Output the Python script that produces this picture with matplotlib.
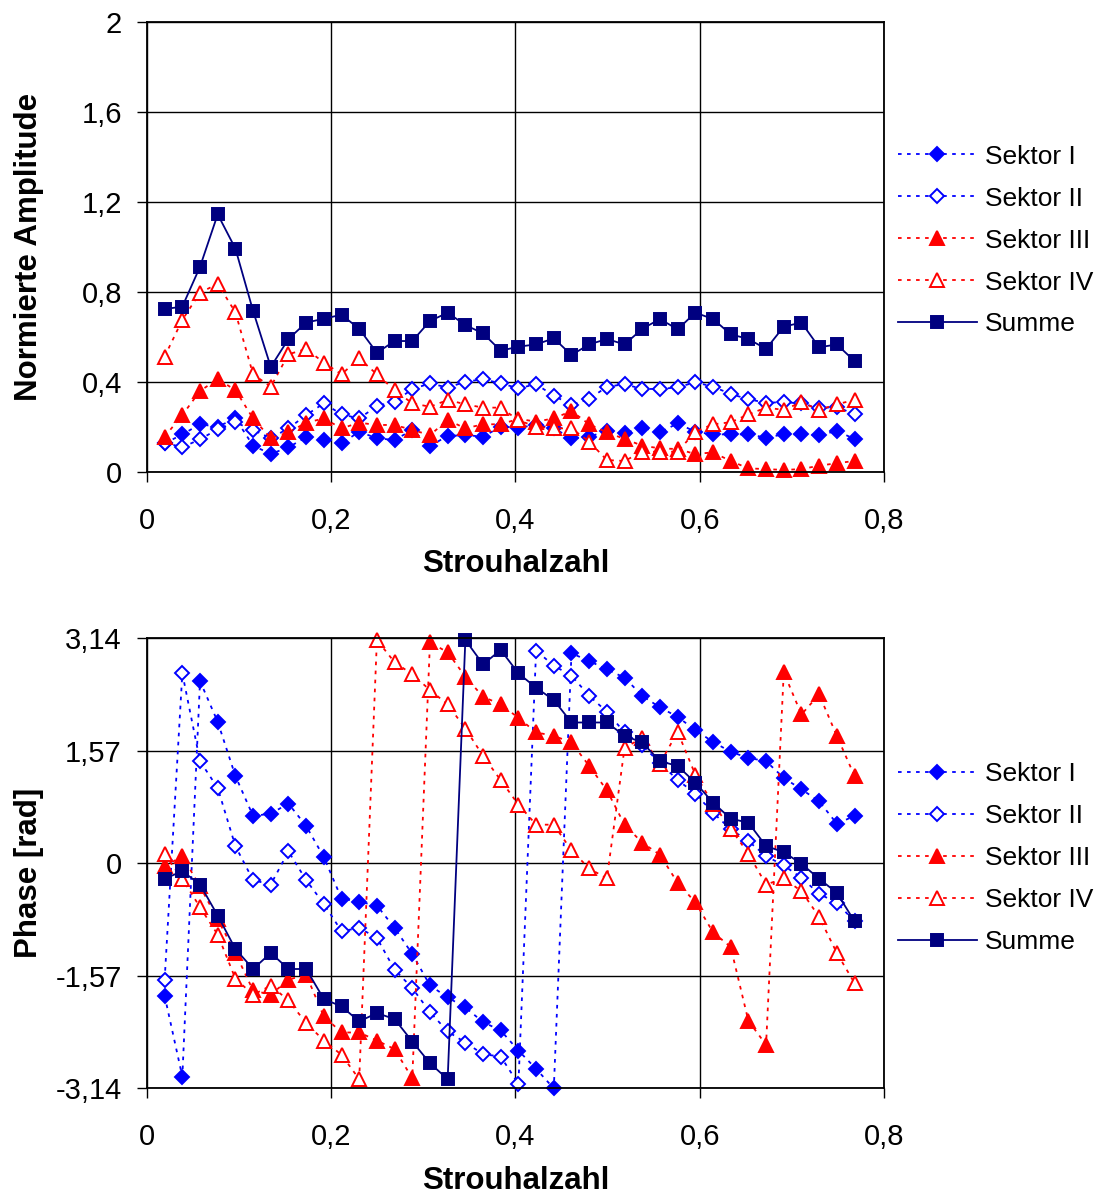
import numpy as np
import matplotlib
matplotlib.use('Agg')
import matplotlib.pyplot as plt

plt.rcParams['font.family'] = ['Liberation Sans', 'DejaVu Sans']

# Strouhal numbers (40 frequency bins)
strouhal = [0.0192, 0.0384, 0.0576, 0.0768, 0.0960, 0.1152, 0.1344, 0.1536, 0.1728, 0.1920,
            0.2112, 0.2304, 0.2496, 0.2688, 0.2880, 0.3072, 0.3264, 0.3456, 0.3648, 0.3840,
            0.4032, 0.4224, 0.4416, 0.4608, 0.4800, 0.4992, 0.5184, 0.5376, 0.5568, 0.5760,
            0.5952, 0.6144, 0.6336, 0.6528, 0.6720, 0.6912, 0.7104, 0.7296, 0.7488, 0.7680]

# normalised amplitude ==========================================
amp_1 = [0.127, 0.167, 0.212, 0.201, 0.238, 0.117, 0.080, 0.110, 0.154, 0.142,
         0.127, 0.179, 0.150, 0.142, 0.187, 0.116, 0.160, 0.164, 0.157, 0.201,
         0.197, 0.209, 0.194, 0.150, 0.157, 0.182, 0.172, 0.197, 0.176, 0.216,
         0.179, 0.167, 0.167, 0.167, 0.153, 0.167, 0.167, 0.164, 0.182, 0.147]
amp_2 = [0.130, 0.110, 0.145, 0.190, 0.220, 0.187, 0.150, 0.194, 0.253, 0.305,
         0.256, 0.238, 0.293, 0.313, 0.368, 0.394, 0.375, 0.401, 0.412, 0.394,
         0.372, 0.390, 0.339, 0.298, 0.324, 0.379, 0.390, 0.369, 0.369, 0.376,
         0.399, 0.379, 0.347, 0.323, 0.308, 0.310, 0.305, 0.283, 0.290, 0.256]
amp_3 = [0.157, 0.253, 0.360, 0.413, 0.364, 0.238, 0.150, 0.176, 0.219, 0.238,
         0.194, 0.219, 0.209, 0.209, 0.187, 0.164, 0.231, 0.194, 0.212, 0.212,
         0.236, 0.224, 0.238, 0.271, 0.212, 0.176, 0.147, 0.117, 0.105, 0.102,
         0.080, 0.087, 0.049, 0.016, 0.013, 0.009, 0.013, 0.028, 0.039, 0.049]
amp_4 = [0.513, 0.676, 0.797, 0.836, 0.710, 0.434, 0.379, 0.523, 0.547, 0.486,
         0.434, 0.505, 0.434, 0.364, 0.305, 0.290, 0.320, 0.301, 0.286, 0.286,
         0.230, 0.201, 0.194, 0.194, 0.135, 0.053, 0.049, 0.090, 0.090, 0.090,
         0.179, 0.212, 0.221, 0.256, 0.286, 0.276, 0.310, 0.276, 0.301, 0.320]
amp_sum = [0.724, 0.735, 0.912, 1.145, 0.993, 0.716, 0.467, 0.591, 0.664, 0.681,
           0.699, 0.636, 0.530, 0.582, 0.582, 0.671, 0.708, 0.653, 0.616, 0.539,
           0.557, 0.567, 0.594, 0.520, 0.567, 0.591, 0.567, 0.636, 0.680, 0.634,
           0.708, 0.680, 0.612, 0.591, 0.547, 0.646, 0.664, 0.554, 0.567, 0.493]

# phase [rad] ===================================================
ph_1 = [-1.846, -2.975, 2.545, 1.976, 1.221, 0.662, 0.695, 0.835, 0.522, 0.088,
        -0.490, -0.536, -0.587, -0.900, -1.263, -1.702, -1.870, -2.010, -2.214, -2.331,
        -2.611, -2.867, -3.140, 2.933, 2.825, 2.709, 2.592, 2.340, 2.177, 2.046,
        1.860, 1.697, 1.557, 1.473, 1.427, 1.193, 1.035, 0.867, 0.555, 0.662]
ph_2 = [-1.622, 2.653, 1.427, 1.053, 0.242, -0.233, -0.294, 0.168, -0.233, -0.564,
        -0.946, -0.900, -1.039, -1.483, -1.739, -2.075, -2.345, -2.499, -2.662, -2.695,
        -3.077, 2.970, 2.760, 2.620, 2.340, 2.116, 1.828, 1.650, 1.400, 1.165,
        0.974, 0.709, 0.476, 0.312, 0.102, -0.028, -0.200, -0.424, -0.550, -0.807]
ph_3 = [-0.040, 0.100, -0.320, -0.780, -1.250, -1.772, -1.832, -1.622, -1.552, -2.135,
        -2.359, -2.359, -2.471, -2.592, -2.998, 3.086, 2.946, 2.606, 2.326, 2.219,
        2.032, 1.828, 1.781, 1.688, 1.361, 1.021, 0.541, 0.289, 0.121, -0.270,
        -0.541, -0.960, -1.166, -2.196, -2.531, 2.667, 2.079, 2.359, 1.781, 1.221]
ph_4 = [0.126, -0.214, -0.611, -0.993, -1.608, -1.832, -1.706, -1.911, -2.228, -2.471,
        -2.671, -3.011, 3.119, 2.807, 2.639, 2.420, 2.219, 1.883, 1.501, 1.161,
        0.821, 0.541, 0.541, 0.182, -0.070, -0.210, 1.613, 1.753, 1.394, 1.837,
        1.240, 0.835, 0.485, 0.136, -0.294, -0.210, -0.387, -0.746, -1.249, -1.669]
ph_sum = [-0.214, -0.107, -0.294, -0.727, -1.193, -1.473, -1.249, -1.473, -1.473, -1.893,
          -1.995, -2.205, -2.088, -2.172, -2.485, -2.788, -3.011, 3.119, 2.779, 2.979,
          2.653, 2.452, 2.280, 1.967, 1.967, 1.967, 1.781, 1.688, 1.427, 1.361,
          1.128, 0.849, 0.625, 0.569, 0.242, 0.158, -0.005, -0.214, -0.410, -0.807]

labels = ['Sektor I', 'Sektor II', 'Sektor III', 'Sektor IV', 'Summe']

xticks       = [0, 0.2, 0.4, 0.6, 0.8]
xtick_labels = ['0', '0,2', '0,4', '0,6', '0,8']
amp_ticks    = [0, 0.4, 0.8, 1.2, 1.6, 2]
amp_labels   = ['0', '0,4', '0,8', '1,2', '1,6', '2']
ph_ticks     = [-3.14, -1.57, 0, 1.57, 3.14]
ph_labels    = ['-3,14', '-1,57', '0', '1,57', '3,14']

BLUE = '#0000FF'
RED  = '#FF0000'
NAVY = '#000080'


def plot_series(ax, y_list):
    styles = [
        dict(color=BLUE, ls=(0, (2, 3)), marker='D', ms=7.5, mfc=BLUE,    mec=BLUE),
        dict(color=BLUE, ls=(0, (2, 3)), marker='D', ms=7.5, mfc='white', mec=BLUE),
        dict(color=RED,  ls=(0, (2, 3)), marker='^', ms=10,  mfc=RED,     mec=RED),
        dict(color=RED,  ls=(0, (2, 3)), marker='^', ms=10,  mfc='white', mec=RED),
        dict(color=NAVY, ls='-',         marker='s', ms=8,   mfc=NAVY,    mec=NAVY),
    ]
    for y, lab, st in zip(y_list, labels, styles):
        ax.plot(strouhal, y, label=lab, lw=1.3, mew=1.4, clip_on=False, **st)


def make_canvas(ax, yticks, ylabels, ylim, ylabel, ylab_y=0.5):
    ax.set_xlim(0, 0.8)
    ax.set_ylim(*ylim)
    ax.set_xticks(xticks)
    ax.set_xticklabels(xtick_labels)
    ax.set_yticks(yticks)
    ax.set_yticklabels(ylabels)
    ax.tick_params(direction='out', length=7, width=1, labelsize=21, color='black')
    ax.tick_params(axis='x', pad=18)
    ax.tick_params(axis='y', pad=11)
    ax.grid(True, color='black', lw=1)
    ax.set_axisbelow(True)
    for sp in ax.spines.values():
        sp.set_linewidth(1.3)
        sp.set_color('black')
    ax.set_xlabel('Strouhalzahl', fontsize=22.5, fontweight='bold', va='center')
    ax.xaxis.set_label_coords(0.5, -0.205)
    ax.set_ylabel(ylabel, fontsize=22.5, fontweight='bold', va='center')
    ax.yaxis.set_label_coords(-0.16, ylab_y)


fig = plt.figure(figsize=(10.95, 11.94), dpi=100)
ax1 = fig.add_axes([0.1342, 0.6047, 0.6731, 0.3769])
ax2 = fig.add_axes([0.1342, 0.0884, 0.6731, 0.3769])

plot_series(ax1, [amp_1, amp_2, amp_3, amp_4, amp_sum])
make_canvas(ax1, amp_ticks, amp_labels, (0, 2), 'Normierte Amplitude')

plot_series(ax2, [ph_1, ph_2, ph_3, ph_4, ph_sum])
make_canvas(ax2, ph_ticks, ph_labels, (-3.14, 3.14), 'Phase [rad]', ylab_y=0.48)

for ax, yc in [(ax1, 0.7985), (ax2, 0.2815)]:
    ax.legend(loc='center left', bbox_to_anchor=(0.820, yc), bbox_transform=fig.transFigure,
              frameon=False, fontsize=19, handlelength=3.0, handletextpad=0.3,
              labelspacing=0.68, borderpad=0, borderaxespad=0, numpoints=1)

fig.savefig('out.png', dpi=100)
